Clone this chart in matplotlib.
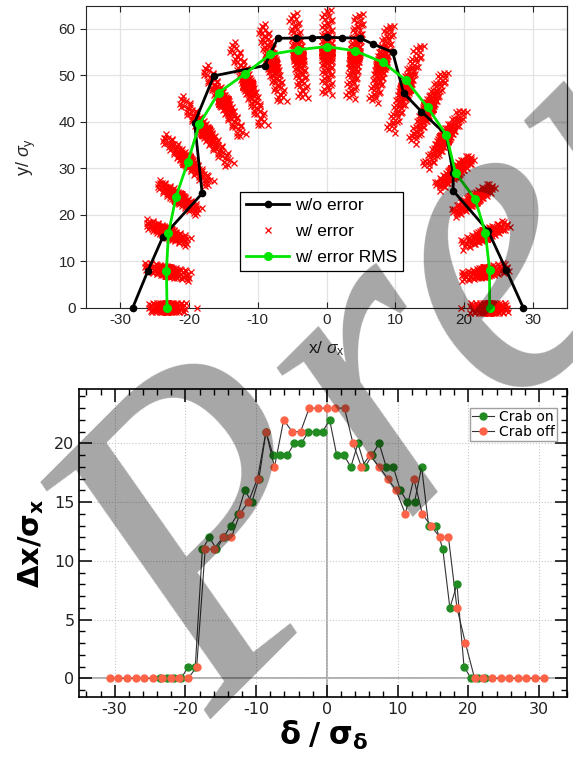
import numpy as np
import matplotlib.pyplot as plt
from matplotlib.ticker import MultipleLocator

plt.rcParams['axes.unicode_minus'] = False
plt.rcParams['mathtext.fontset'] = 'custom'
plt.rcParams['mathtext.rm'] = 'Liberation Sans'
plt.rcParams['mathtext.it'] = 'Liberation Sans:italic'
plt.rcParams['mathtext.bf'] = 'DejaVu Sans:bold'

# ---------------- top panel data ----------------
# ideal positions without error
wo_x = [-28.2, -26.0, -23.8, -18.1, -19.2, -16.4, -9.0, -7.1, -4.5, -2.1, 0.0,
        2.2, 4.9, 6.8, 9.6, 11.2, 13.8, 17.4, 18.4, 18.4, 23.5, 26.1, 28.6]
wo_y = [0.0, 7.9, 15.3, 24.6, 39.8, 49.9, 52.1, 58.0, 58.0, 58.1, 58.2,
        58.1, 58.0, 56.7, 55.0, 46.2, 42.2, 37.2, 28.9, 25.2, 16.5, 8.2, 0.0]

# RMS of positions with error
rms_x = [-23.2, -23.3, -23.0, -21.9, -20.2, -18.5, -15.7, -11.9, -8.2, -4.2, 0.0,
         4.1, 8.2, 11.6, 14.7, 17.4, 18.75, 21.6, 23.1, 23.7, 23.7]
rms_y = [0.0, 7.9, 16.0, 23.9, 31.3, 39.5, 46.3, 50.3, 54.5, 55.5, 56.2,
         55.3, 52.8, 48.9, 43.1, 37.2, 29.0, 23.4, 16.0, 8.1, 0.0]

# extent of each cloud of seeds with error (outer end, inner end)
err_x_out = [-25.9, -26.5, -26.3, -24.6, -23.8, -21.3, -17.8, -13.8, -9.5, -4.9, 0.0,
             4.7, 9.2, 13.6, 17.2, 19.9, 21.1, 24.2, 26.4, 26.4, 26.4]
err_y_out = [0.0, 8.8, 18.3, 26.8, 36.8, 45.1, 51.9, 56.9, 60.9, 63.4, 64.1,
             63.4, 60.9, 56.6, 50.8, 42.6, 32.5, 26.4, 18.2, 8.8, 0.0]
err_x_in = [-20.5, -19.8, -20.1, -18.6, -16.9, -14.0, -12.3, -9.2, -6.5, -3.4, 0.0,
            3.4, 6.7, 9.2, 12.4, 14.3, 16.0, 18.4, 19.6, 19.6, 20.8]
err_y_in = [0.0, 6.7, 14.0, 20.5, 26.5, 30.6, 36.8, 39.0, 44.3, 45.0, 45.8,
            45.0, 44.3, 37.9, 35.7, 30.4, 26.0, 20.3, 13.5, 6.7, 0.0]
err_lone_x = [-18.8, 19.6, -26.0, 20.0, 12.6]
err_lone_y = [0.0, 0.0, 9.2, 7.0, 37.5]

# ---------------- bottom panel data ----------------
delta_on = [-23.6, -22.6, -21.6, -20.6, -19.6, -18.6, -17.6, -16.6, -15.6, -14.6,
            -13.6, -12.6, -11.6, -10.6, -9.6, -8.6, -7.6, -6.6, -5.6, -4.6,
            -3.6, -2.6, -1.6, -0.6, 0.4, 1.4, 2.4, 3.4, 4.4, 5.4,
            6.4, 7.4, 8.4, 9.4, 10.4, 11.4, 12.4, 13.4, 14.4, 15.4,
            16.4, 17.4, 18.4, 19.4, 20.4, 21.4, 22.4]
dx_on = [0, 0, 0, 0, 1, 1, 11, 12, 11, 12,
         13, 14, 16, 15, 17, 21, 19, 19, 19, 20,
         20, 21, 21, 21, 22, 19, 19, 18, 20, 18,
         19, 20, 18, 18, 16, 15, 15, 18, 13, 13,
         11, 6, 8, 1, 0, 0, 0]

delta_off = [-30.7, -29.5, -28.2, -27.0, -25.8, -24.6, -23.3, -22.1, -20.9, -19.6,
             -18.4, -17.2, -16.0, -14.7, -13.5, -12.3, -11.1, -9.8, -8.6, -7.4,
             -6.1, -4.9, -3.7, -2.5, -1.2, 0.0, 1.2, 2.5, 3.7, 4.9,
             6.1, 7.4, 8.6, 9.8, 11.1, 12.3, 13.5, 14.7, 16.0, 17.2,
             18.4, 19.6, 20.9, 22.1, 23.3, 24.6, 25.8, 27.0, 28.2, 29.5, 30.7]
dx_off = [0, 0, 0, 0, 0, 0, 0, 0, 0, 0,
          1, 11, 11, 12, 12, 14, 15, 17, 21, 18,
          22, 21, 21, 23, 23, 23, 23, 23, 20, 18,
          19, 18, 17, 16, 14, 17, 14, 13, 12, 12,
          6, 3, 0, 0, 0, 0, 0, 0, 0, 0, 0]

GREEN = '#228B22'
ORANGE = '#FF6347'
DARK = '#262626'

fig = plt.figure(figsize=(5.73, 7.57), dpi=100)

# -------------------------------
# TOP PANEL
# -------------------------------
ax1 = fig.add_axes([0.150, 0.5935, 0.840, 0.399])
ax1.set_xlim(-35, 35)
ax1.set_ylim(0, 65)
ax1.set_xticks(np.arange(-30, 31, 10))
ax1.set_yticks(np.arange(0, 61, 10))
ax1.grid(True, color='#e3e3e3', lw=0.9)
ax1.set_axisbelow(True)

# clouds drawn as bands of crosses between their two ends
sx, sy = 6.89, 4.645   # px per data unit
t = 0.5 + 0.5 * np.linspace(-1, 1, 160) ** 3
wiggle = np.tile([-1.0, 0.3, 0.9, -0.5, 0.6, -0.2, 0.0, -0.8], 20) * 5.0
for i in range(len(err_x_out)):
    x0, y0 = err_x_in[i], err_y_in[i]
    x1, y1 = err_x_out[i], err_y_out[i]
    dxp, dyp = (x1 - x0) * sx, (y1 - y0) * sy
    L = np.hypot(dxp, dyp)
    nx, ny = -dyp / L, dxp / L
    px = x0 + t * (x1 - x0) + wiggle * nx / sx
    py = y0 + t * (y1 - y0) + wiggle * ny / sy
    ax1.plot(px, py, ls='none', marker='x', ms=4.5, mew=0.9, color='red',
             clip_on=False, zorder=3)
ax1.plot(err_lone_x, err_lone_y, ls='none', marker='x', ms=4.5, mew=0.9,
         color='red', clip_on=False, zorder=3)

ax1.plot(wo_x, wo_y, '-o', color='black', lw=2, ms=4.5, clip_on=False, zorder=4)
ax1.plot(rms_x, rms_y, '-o', color='#00e600', lw=2, ms=5.5, clip_on=False, zorder=5)

h1, = ax1.plot([], [], '-o', color='black', lw=2, ms=4.5)
h2, = ax1.plot([], [], ls='none', marker='x', ms=4.5, mew=0.9, color='red')
h3, = ax1.plot([], [], '-o', color='#00e600', lw=2, ms=5.5)
leg = ax1.legend([h1, h2, h3], ['w/o error', 'w/ error', 'w/ error RMS'],
                 loc='upper left', bbox_to_anchor=(0.32, 0.383), fancybox=False,
                 framealpha=1, edgecolor='black', handlelength=2.5,
                 borderpad=0.35, labelspacing=0.62, handletextpad=0.3,
                 borderaxespad=0,
                 prop={'family': 'Liberation Sans', 'size': 12.5})
leg.get_frame().set_linewidth(0.9)

for s in ax1.spines.values():
    s.set_color(DARK)
    s.set_linewidth(0.8)
ax1.tick_params(axis='x', direction='in', top=True, length=4, color=DARK,
                labelcolor=DARK, labelsize=11)
ax1.tick_params(axis='y', direction='out', right=False, length=4, color=DARK,
                labelcolor=DARK, labelsize=11)
ry = ax1.secondary_yaxis('right')
ry.set_yticks(np.arange(0, 61, 10))
ry.tick_params(direction='in', length=4, color=DARK, labelright=False)
ry.spines['right'].set_color(DARK)
for lab in ax1.get_xticklabels() + ax1.get_yticklabels():
    lab.set_family('Liberation Sans')
ax1.set_xlabel(r'x/ $\sigma_{\rm x}$', fontsize=12.5, family='Liberation Sans',
               color=DARK, labelpad=9)
ax1.set_ylabel(r'y/ $\sigma_{\rm y}$', fontsize=13, family='Liberation Sans',
               color=DARK, labelpad=15)

# -------------------------------
# BOTTOM PANEL
# -------------------------------
ax2 = fig.add_axes([0.1384, 0.0797, 0.8516, 0.406])
ax2.set_xlim(-35, 34)
ax2.set_ylim(-1.55, 24.6)
ax2.xaxis.set_major_locator(MultipleLocator(10))
ax2.xaxis.set_minor_locator(MultipleLocator(2))
ax2.yaxis.set_major_locator(MultipleLocator(5))
ax2.yaxis.set_minor_locator(MultipleLocator(1))
ax2.grid(True, which='major', color='#c8c8c8', ls=':', lw=0.8)
ax2.axhline(0, color='#a0a0a0', lw=1.2, zorder=1)
ax2.axvline(0, color='#a0a0a0', lw=1.2, zorder=1)

ax2.plot(delta_on, dx_on, ls='none', marker='o', mfc=GREEN, mec=GREEN, ms=5,
         zorder=3)
ax2.plot(delta_off, dx_off, ls='none', marker='o', mfc=ORANGE, mec=ORANGE, ms=5,
         zorder=3)
ax2.plot(delta_on, dx_on, '-', color='#333333', lw=0.8, zorder=2)
ax2.plot(delta_off, dx_off, '-', color='#333333', lw=0.8, zorder=2)

hg, = ax2.plot([], [], '-o', color='#333333', mfc=GREEN, mec=GREEN, ms=5, lw=0.8)
ho, = ax2.plot([], [], '-o', color='#333333', mfc=ORANGE, mec=ORANGE, ms=5, lw=0.8)
leg2 = ax2.legend([hg, ho], ['Crab on', 'Crab off'], loc='upper right',
                  bbox_to_anchor=(0.979, 0.94), fancybox=False, framealpha=1,
                  edgecolor='#a0a0a0', handlelength=1.6, borderpad=0.15,
                  labelspacing=0.1, handletextpad=0.35, borderaxespad=0,
                  prop={'size': 10})

for s in ax2.spines.values():
    s.set_color('black')
    s.set_linewidth(1.2)
ax2.tick_params(which='both', direction='in', top=True, right=True,
                labelsize=11.5, labelcolor='#222222')
ax2.tick_params(which='major', length=9, width=1.1)
ax2.tick_params(which='minor', length=4, width=1.0)
ax2.set_xlabel(r'$\mathbf{\delta\ /\ \sigma_{\delta}}$', fontsize=22, labelpad=2)
ax2.set_ylabel(r'$\mathbf{\Delta x/\sigma_x}$', fontsize=21, labelpad=6)

# watermark
fig.text(0.372, 0.05, 'Preprint', rotation=45, rotation_mode='anchor',
         ha='left', va='baseline', fontsize=315, family='Liberation Serif',
         style='italic', color='black', alpha=0.35, zorder=10)

fig.savefig('out.png', dpi=100)
